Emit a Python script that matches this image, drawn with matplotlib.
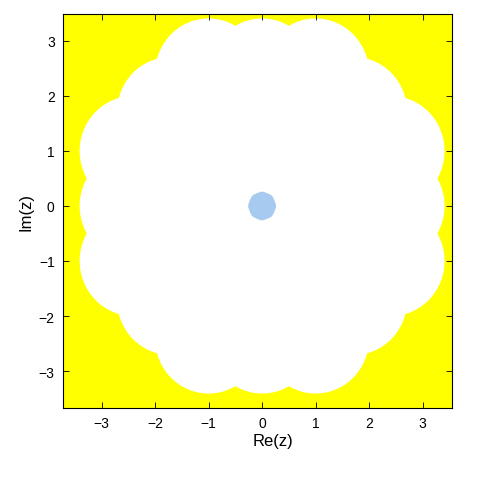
import matplotlib
matplotlib.use("Agg")
import matplotlib.pyplot as plt
from matplotlib.patches import Circle, Polygon

# centres of the white discs (radius 1)
disc_x = [0.0, 1.0, 1.71, 2.41, 2.41, 2.41, 1.71, 1.0,
          0.0, -1.0, -1.71, -2.41, -2.41, -2.41, -1.71, -1.0]
disc_y = [2.41, 2.41, 1.71, 1.0, 0.0, -1.0, -1.71, -2.41,
          -2.41, -2.41, -1.71, -1.0, 0.0, 1.0, 1.71, 2.41]
disc_r = 1.0

# small blue region at the origin
blob_x = [0.1, 0.071, 0.0, -0.071, -0.1, -0.071, 0.0, 0.071]
blob_y = [0.0, 0.071, 0.1, 0.071, 0.0, -0.071, -0.1, -0.071]
blob_r = 0.16

ticks = [-3, -2, -1, 0, 1, 2, 3]

fig = plt.figure(figsize=(4.85, 4.85), dpi=100)
ax = fig.add_axes([0.130, 0.157, 0.801, 0.812])
ax.set_facecolor('#FFFF00')

# interior of the region (polygon through the disc centres) plus the discs
ax.add_patch(Polygon(list(zip(disc_x, disc_y)), closed=True,
                     facecolor='white', edgecolor='white', lw=1))
for x, y in zip(disc_x, disc_y):
    ax.add_patch(Circle((x, y), disc_r, facecolor='white', edgecolor='none', lw=0))
for x, y in zip(blob_x, blob_y):
    ax.add_patch(Circle((x, y), blob_r, facecolor='#A6CAF0', edgecolor='none', lw=0))

ax.set_xlim(-3.72, 3.54)
ax.set_ylim(-3.67, 3.49)
ax.set_xticks(ticks)
ax.set_yticks(ticks)
ax.tick_params(direction='in', top=True, right=True, length=4, width=0.6,
               labelsize=10, pad=6)
for s in ax.spines.values():
    s.set_linewidth(0.8)

for lab in ax.get_xticklabels() + ax.get_yticklabels():
    lab.set_family('Liberation Sans')

ax.set_xlabel('Re(z)', fontsize=12, family='Liberation Sans', labelpad=3)
ax.xaxis.set_label_coords(0.54, -0.065)
ax.set_ylabel('Im(z)', fontsize=12, family='Liberation Sans', labelpad=4)

fig.savefig('out.png', dpi=100)
